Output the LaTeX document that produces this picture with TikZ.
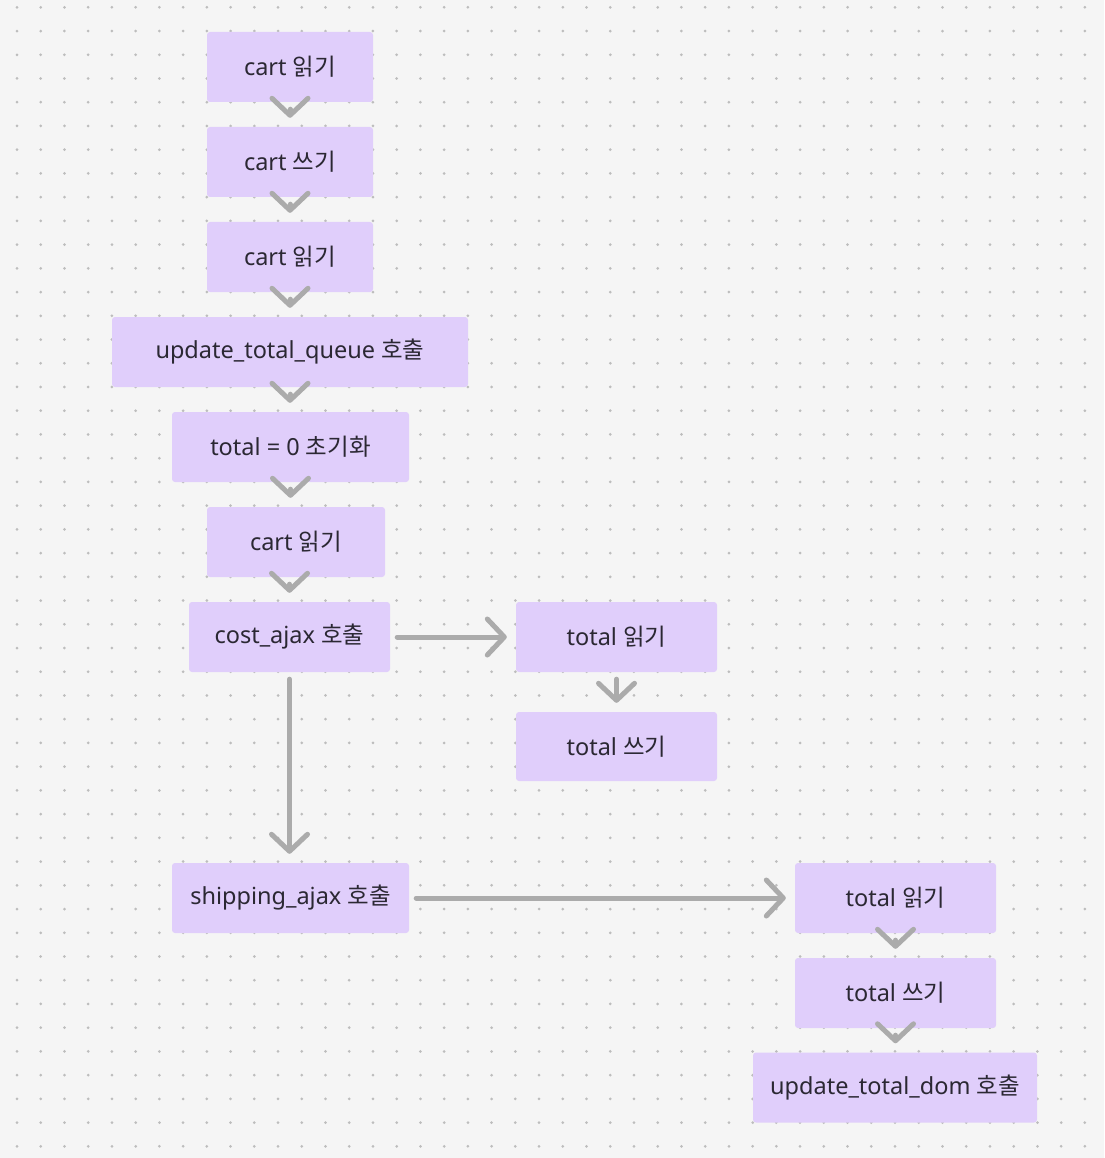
\documentclass[tikz,border=0pt]{standalone}
\usepackage{fontspec}
\setmainfont{Noto Sans}
\newfontfamily\kr{Noto Sans CJK KR}
\usetikzlibrary{arrows.meta}
\definecolor{bgc}{HTML}{F5F5F5}
\definecolor{dotc}{HTML}{BDBDBD}
\definecolor{boxc}{HTML}{E0CEFB}
\definecolor{arrc}{HTML}{ABABAB}
\definecolor{txtc}{HTML}{2B2833}
\tikzset{
  stepbox/.style={fill=boxc, draw=none, rounded corners=3pt, minimum height=70pt, inner sep=0pt, text=txtc, font=\fontsize{23.5}{28}\selectfont},
  conn/.style={draw=arrc, line width=5pt, line cap=round, -{Straight Barb[length=17pt,width=36pt,round]}, shorten <=7pt, shorten >=9pt}
}
\begin{document}
\begin{tikzpicture}[x=1pt,y=-1pt]
\fill[bgc] (0,0) rectangle (1104,1158);
\useasboundingbox (0,0) rectangle (1104,1158);
\foreach \i in {0,...,45}{
  \foreach \j in {0,...,48}{
    \fill[dotc] ({17+23.73*\i},{7.3+23.73*\j}) circle (1.5pt);
  }
}
\node[stepbox, minimum width=166pt] (c1) at (290,67) {cart {\kr 읽기}};
\node[stepbox, minimum width=166pt] (c2) at (290,162) {cart {\kr 쓰기}};
\node[stepbox, minimum width=166pt] (c3) at (290,257) {cart {\kr 읽기}};
\node[stepbox, minimum width=356pt] (q) at (290,352) {update\_total\_queue {\kr 호출}};
\node[stepbox, minimum width=237pt] (t0) at (290.5,447) {total = 0 {\kr 초기화}};
\node[stepbox, minimum width=178pt] (c4) at (296,542) {cart {\kr 읽기}};
\node[stepbox, minimum width=201pt] (cost) at (289.5,637) {cost\_ajax {\kr 호출}};
\node[stepbox, minimum width=201pt] (tr1) at (616.5,637) {total {\kr 읽기}};
\node[stepbox, minimum width=201pt, minimum height=69pt] (tw1) at (616.5,746.5) {total {\kr 쓰기}};
\node[stepbox, minimum width=237pt] (ship) at (290.5,898) {shipping\_ajax {\kr 호출}};
\node[stepbox, minimum width=201pt] (tr2) at (895.5,898) {total {\kr 읽기}};
\node[stepbox, minimum width=201pt] (tw2) at (895.5,993) {total {\kr 쓰기}};
\node[stepbox, minimum width=284pt] (dom) at (895,1087.5) {update\_total\_dom {\kr 호출}};
\draw[conn] (c1.south) -- (c2.north);
\draw[conn] (c2.south) -- (c3.north);
\draw[conn] (c3.south) -- (q.north);
\draw[conn] (q.south) -- (q.south |- t0.north);
\draw[conn] (t0.south) -- (t0.south |- c4.north);
\draw[conn] (c4.south -| cost.north) -- (cost.north);
\draw[conn] (cost.east) -- (tr1.west);
\draw[conn] (tr1.south) -- (tw1.north);
\draw[conn] (cost.south) -- (cost.south |- ship.north);
\draw[conn] (ship.east) -- (tr2.west);
\draw[conn] (tr2.south) -- (tw2.north);
\draw[conn] (tw2.south) -- (tw2.south |- dom.north);
\end{tikzpicture}
\end{document}
